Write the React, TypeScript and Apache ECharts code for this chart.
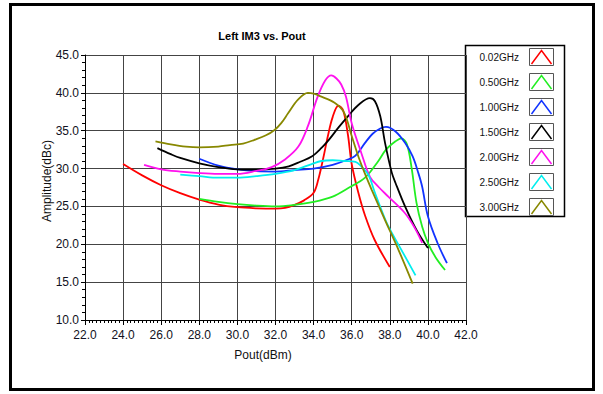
import React, { useEffect, useRef } from "react";
import * as echarts from "echarts";

const seriesNames = ["0.02GHz", "0.50GHz", "1.00GHz", "1.50GHz", "2.00GHz", "2.50GHz", "3.00GHz"];
const seriesColors = ["#ff0000", "#22ee22", "#1133ff", "#000000", "#ff11ee", "#00eeee", "#888800"];

const red: number[][] = [[24.0,30.6],[25,29.1],[26,27.8],[27,26.75],[28,25.9],[29,25.25],[30,24.9],[31,24.75],[32,24.7],[32.5,24.8],[33,25.2],[33.5,25.8],[34,26.8],[34.25,28.6],[34.5,31.3],[34.75,34.3],[35.0,36.8],[35.3,38.3],[35.55,37.7],[35.8,34.5],[36.0,30.6],[36.35,26.8],[36.7,23.8],[37.2,20.6],[38.0,17.0]];
const green: number[][] = [[28.0,26.0],[29,25.6],[30,25.3],[31,25.1],[32,25.0],[33,25.2],[34,25.6],[35,26.3],[35.8,27.4],[36.7,28.8],[37.4,31.0],[37.8,32.5],[38.3,33.6],[38.6,34.0],[38.9,33.2],[39.15,30.0],[39.4,25.5],[39.7,22.3],[40.0,20.2],[40.4,18.3],[40.9,16.6]];
const blue: number[][] = [[28.0,31.3],[29,30.4],[30,29.9],[31,29.65],[32,29.6],[33,29.8],[34,30.0],[35,30.5],[35.8,31.2],[36.2,31.7],[36.7,33.4],[37.1,34.6],[37.5,35.3],[37.8,35.5],[38.3,34.9],[38.8,33.4],[39.2,31.6],[39.5,29.4],[39.7,27.6],[40.0,23.7],[40.5,20.2],[41.0,17.5]];
const black: number[][] = [[25.8,32.7],[26.5,31.9],[27,31.4],[28,30.7],[29,30.2],[30,29.9],[31,29.85],[32,30.0],[32.7,30.3],[33.3,30.9],[33.9,31.6],[34.4,32.7],[34.8,33.8],[35.3,35.4],[35.8,36.9],[36.35,38.4],[36.96,39.3],[37.22,38.9],[37.5,36.9],[37.75,33.4],[38.1,29.5],[38.3,28.1],[38.8,25.0],[39.4,21.9],[40.0,19.5]];
const magenta: number[][] = [[25.1,30.5],[26,29.9],[27,29.6],[28,29.4],[29,29.3],[30,29.3],[31,29.7],[31.8,30.2],[32.5,31.2],[33.2,32.9],[33.7,35.6],[34.2,39.4],[34.6,41.6],[34.93,42.3],[35.2,41.9],[35.45,41.1],[35.7,39.5],[36.0,36.0],[36.5,32.1],[36.96,28.9],[37.4,27.6],[37.92,26.3],[38.8,24.1],[39.3,22.2],[39.7,20.2]];
const cyan: number[][] = [[27.0,29.2],[28,29.0],[29,28.8],[30,28.8],[31,29.0],[32,29.3],[33,29.8],[33.9,30.6],[34.4,31.0],[35,31.1],[35.6,31.0],[36.2,30.9],[36.5,30.3],[36.87,29.2],[37.22,26.8],[37.6,24.3],[37.92,22.4],[38.6,19.3],[39.35,15.9]];
const olive: number[][] = [[25.7,33.6],[26.5,33.2],[27.3,32.9],[28,32.8],[29,32.9],[29.6,33.1],[30.3,33.3],[30.9,33.8],[31.5,34.4],[31.95,35.1],[32.3,36.0],[32.66,37.3],[33.18,39.1],[33.7,40.0],[34.0,39.9],[34.3,39.6],[35.1,38.7],[35.6,37.4],[36.0,34.3],[36.35,31.6],[36.7,29.3],[37.05,27.2],[37.75,23.2],[38.45,19.3],[39.2,14.8]];
const seriesData = [red, green, blue, black, magenta, cyan, olive];

const FONT = "Liberation Sans";

export default function App() {
  const ref = useRef<HTMLDivElement>(null);
  useEffect(() => {
    if (!ref.current) return;
    const chart = echarts.init(ref.current, null, { renderer: "svg" });

    const legendItems: any[] = [];
    seriesNames.forEach((name, i) => {
      const cy = 57 + i * 25;
      legendItems.push({
        type: "text",
        x: 519,
        y: cy,
        style: { text: name, fill: "#111", font: `10px "${FONT}"`, textAlign: "right", textVerticalAlign: "middle" },
      });
      legendItems.push({
        type: "rect",
        shape: { x: 529.5, y: cy - 8.5, width: 24, height: 17 },
        style: { fill: "#fff", stroke: "#555", lineWidth: 1 },
      });
      legendItems.push({
        type: "polyline",
        shape: { points: [[531.5, cy + 7], [541.5, cy - 6.5], [551.5, cy + 7]] },
        style: { stroke: seriesColors[i], lineWidth: 1.5, fill: "none" },
      });
    });

    chart.setOption({
      animation: false,
      backgroundColor: "#fff",
      grid: { left: 85, right: 137, top: 55, bottom: 74 },
      xAxis: {
        type: "value",
        min: 22,
        max: 42,
        interval: 2,
        axisLine: { show: true, lineStyle: { color: "#000", width: 1 } },
        axisTick: { show: true, length: 5, lineStyle: { color: "#000" } },
        minorTick: { show: true, splitNumber: 10, length: 3, lineStyle: { color: "#000" } },
        axisLabel: { formatter: (v: number) => v.toFixed(1), color: "#111122", fontFamily: FONT, fontSize: 12, margin: 9 },
        splitLine: { show: true, lineStyle: { color: "#444", width: 1 } },
      },
      yAxis: {
        type: "value",
        min: 10,
        max: 45,
        interval: 5,
        axisLine: { show: true, lineStyle: { color: "#000", width: 1 } },
        axisTick: { show: true, length: 4, lineStyle: { color: "#000" } },
        minorTick: { show: true, splitNumber: 5, length: 3, lineStyle: { color: "#000" } },
        axisLabel: { formatter: (v: number) => v.toFixed(1), color: "#111122", fontFamily: FONT, fontSize: 12, margin: 6 },
        splitLine: { show: true, lineStyle: { color: "#444", width: 1 } },
      },
      series: seriesNames.map((name, i) => ({
        name,
        type: "line",
        data: seriesData[i],
        showSymbol: false,
        smooth: 0.35,
        lineStyle: { color: seriesColors[i], width: 1.8 },
        itemStyle: { color: seriesColors[i] },
      })),
      graphic: [
        {
          type: "rect",
          shape: { x: 10.5, y: 4.5, width: 583, height: 385 },
          style: { fill: "none", stroke: "#000", lineWidth: 3 },
          z: 100,
        },
        {
          type: "text",
          x: 262,
          y: 36,
          style: { text: "Left IM3 vs. Pout", fill: "#000", font: `bold 11px "${FONT}"`, textAlign: "center", textVerticalAlign: "middle" },
        },
        {
          type: "text",
          x: 263,
          y: 355,
          style: { text: "Pout(dBm)", fill: "#111", font: `12px "${FONT}"`, textAlign: "center", textVerticalAlign: "middle" },
        },
        {
          type: "text",
          x: 47,
          y: 181,
          rotation: Math.PI / 2,
          style: { text: "Amplitude(dBc)", fill: "#111", font: `12px "${FONT}"`, textAlign: "center", textVerticalAlign: "middle" },
        },
        {
          type: "group",
          z: 50,
          children: [
            {
              type: "rect",
              shape: { x: 465.5, y: 45.5, width: 99, height: 171 },
              style: { fill: "#fff", stroke: "#000", lineWidth: 1.5 },
            },
            ...legendItems,
          ],
        },
      ],
    });
    return () => chart.dispose();
  }, []);
  return <div ref={ref} style={{ position: "fixed", left: 0, top: 0, width: 603, height: 394, background: "#fff" }} />;
}
